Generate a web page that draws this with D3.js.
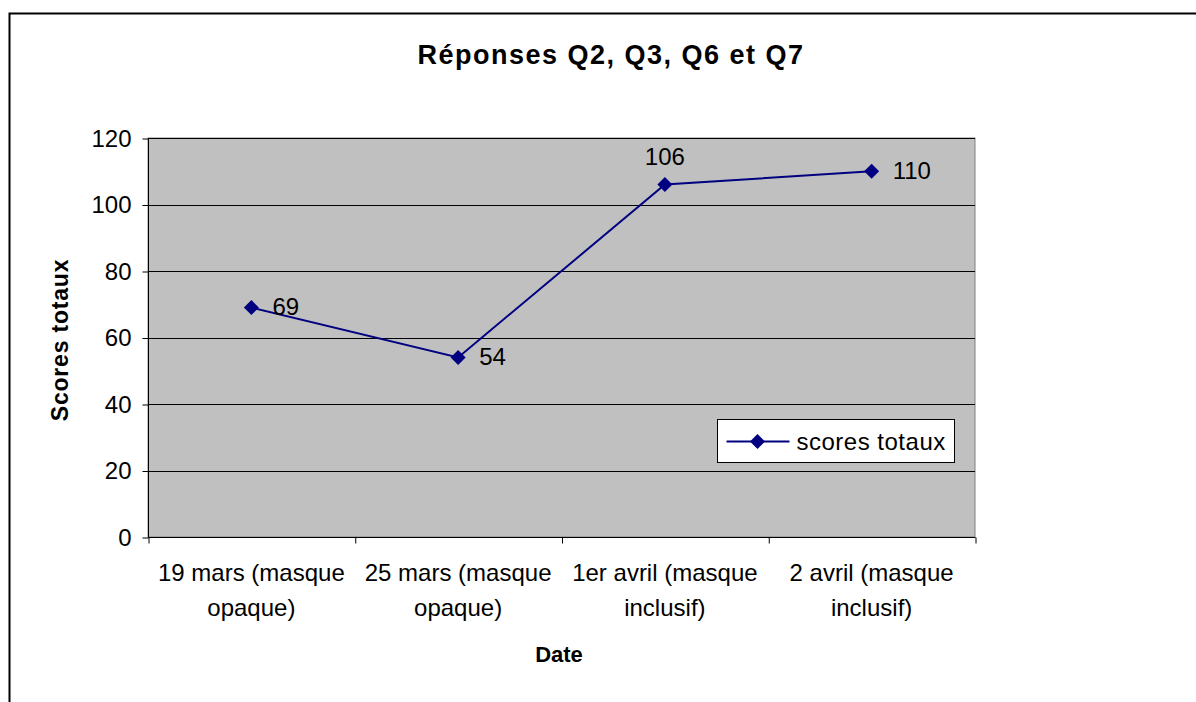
<!DOCTYPE html>
<html>
<head>
<meta charset="utf-8">
<script src="https://cdn.jsdelivr.net/npm/d3@7"></script>
<style>
  body { margin: 0; background: #fff; }
  text { font-family: "Liberation Sans", Arial, sans-serif; fill: #000; }
</style>
</head>
<body>
<div id="chart"></div>
<script>
var width = 1196;
var height = 702;

// data
var categories = ['19 mars (masque opaque)', '25 mars (masque opaque)', '1er avril (masque inclusif)', '2 avril (masque inclusif)'];
var categoryLines = [
    ['19 mars (masque', 'opaque)'],
    ['25 mars (masque', 'opaque)'],
    ['1er avril (masque', 'inclusif)'],
    ['2 avril (masque', 'inclusif)']
];
var scores = [69, 54, 106, 110];
var labelSide = ['right', 'right', 'above', 'right'];
var yTicks = [0, 20, 40, 60, 80, 100, 120];

var plot = {left: 148, right: 975, top: 138, bottom: 537};

var svg = d3.select('#chart')
    .append('svg')
    .attr('width', width)
    .attr('height', height);

// outer frame (runs past the window on right and bottom)
svg.append('rect')
    .attr('x', 9.5).attr('y', 13.5)
    .attr('width', 1300).attr('height', 800)
    .attr('fill', '#fff')
    .attr('stroke', '#000')
    .attr('stroke-width', 2);

var x = d3.scaleBand()
    .domain(categories)
    .range([plot.left, plot.right])
    .padding(0);

var xEdges = d3.scaleLinear()
    .domain([0, categories.length])
    .range([plot.left, plot.right]);

var y = d3.scaleLinear()
    .domain([0, 120])
    .range([plot.bottom, plot.top]);

// plot area
svg.append('rect')
    .attr('x', plot.left).attr('y', plot.top)
    .attr('width', plot.right - plot.left)
    .attr('height', plot.bottom - plot.top)
    .attr('fill', '#c0c0c0')
    .attr('stroke', '#808080')
    .attr('stroke-width', 1);

// gridlines
svg.append('g')
    .selectAll('line')
    .data(yTicks.filter((d) => d > 0))
    .enter()
    .append('line')
    .attr('x1', plot.left).attr('x2', plot.right)
    .attr('y1', (d) => Math.round(y(d)) + 0.5)
    .attr('y2', (d) => Math.round(y(d)) + 0.5)
    .attr('stroke', '#000')
    .attr('stroke-width', 1);

// y axis
var yAxis = svg.append('g')
    .attr('transform', `translate(${plot.left + 0.5}, 0.5)`)
    .call(d3.axisLeft(y).tickValues(yTicks).tickSize(6).tickPadding(11));
yAxis.selectAll('path, line').attr('stroke', '#000');
yAxis.select('.domain').attr('d', `M0,${plot.top}V${plot.bottom}`);
yAxis.selectAll('text')
    .style('font-family', '"Liberation Sans", Arial, sans-serif')
    .style('font-size', '24px')
    .attr('fill', '#000');

// x axis (ticks at category edges)
var xAxis = svg.append('g')
    .attr('transform', `translate(0.5, ${plot.bottom + 0.5})`)
    .call(d3.axisBottom(xEdges).tickValues(d3.range(categories.length + 1)).tickSize(6).tickFormat(''));
xAxis.selectAll('path, line').attr('stroke', '#000');
xAxis.select('.domain').attr('d', `M${plot.left},0H${plot.right}`);

// category labels
svg.append('g')
    .selectAll('text')
    .data(categories)
    .enter()
    .append('text')
    .attr('text-anchor', 'middle')
    .style('font-size', '24px')
    .each(function(d, i) {
        var t = d3.select(this);
        categoryLines[i].forEach((line, j) => {
            t.append('tspan')
                .attr('x', x(d) + x.bandwidth() / 2)
                .attr('y', 581 + j * 35)
                .text(line);
        });
    });

// series line
var line = d3.line()
    .x((d, i) => x(categories[i]) + x.bandwidth() / 2)
    .y((d) => y(d));

svg.append('path')
    .datum(scores)
    .attr('d', line)
    .attr('fill', 'none')
    .attr('stroke', '#000080')
    .attr('stroke-width', 2);

var diamond = d3.symbol().type(d3.symbolSquare).size(112);

svg.append('g')
    .selectAll('path')
    .data(scores)
    .enter()
    .append('path')
    .attr('d', diamond)
    .attr('transform', (d, i) => `translate(${x(categories[i]) + x.bandwidth() / 2}, ${y(d)}) rotate(45)`)
    .attr('fill', '#000080');

// data labels
svg.append('g')
    .selectAll('text')
    .data(scores)
    .enter()
    .append('text')
    .attr('x', (d, i) => x(categories[i]) + x.bandwidth() / 2 + (labelSide[i] === 'right' ? 21 : 0))
    .attr('y', (d, i) => y(d) + (labelSide[i] === 'right' ? -1 : -28))
    .attr('dy', '0.35em')
    .attr('text-anchor', (d, i) => labelSide[i] === 'right' ? 'start' : 'middle')
    .style('font-size', '24px')
    .text((d) => d);

// titles
svg.append('text')
    .attr('x', 611).attr('y', 64)
    .attr('text-anchor', 'middle')
    .style('font-size', '27px')
    .style('font-weight', 'bold')
    .style('letter-spacing', '1.5px')
    .text('Réponses Q2, Q3, Q6 et Q7');

svg.append('text')
    .attr('transform', 'translate(68, 340) rotate(-90)')
    .attr('text-anchor', 'middle')
    .style('font-size', '23px')
    .style('font-weight', 'bold')
    .style('letter-spacing', '0.8px')
    .text('Scores totaux');

svg.append('text')
    .attr('x', 559).attr('y', 662)
    .attr('text-anchor', 'middle')
    .style('font-size', '22px')
    .style('font-weight', 'bold')
    .text('Date');

// legend
var legend = svg.append('g').attr('transform', 'translate(717.5, 419.5)');
legend.append('rect')
    .attr('width', 237).attr('height', 43)
    .attr('fill', '#fff')
    .attr('stroke', '#000')
    .attr('stroke-width', 1);
legend.append('line')
    .attr('x1', 9).attr('x2', 72)
    .attr('y1', 22).attr('y2', 22)
    .attr('stroke', '#000080')
    .attr('stroke-width', 2);
legend.append('path')
    .attr('d', diamond)
    .attr('transform', 'translate(40, 22) rotate(45)')
    .attr('fill', '#000080');
legend.append('text')
    .attr('x', 79).attr('y', 22)
    .attr('dy', '0.35em')
    .style('font-size', '24px')
    .style('letter-spacing', '0.5px')
    .text('scores totaux');
</script>
</body>
</html>
